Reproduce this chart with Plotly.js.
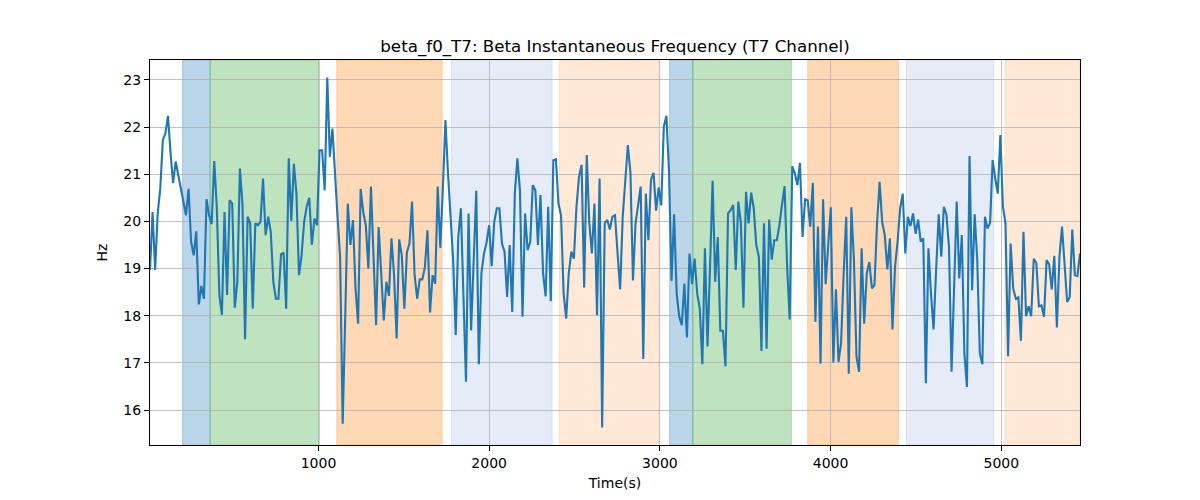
<!DOCTYPE html>
<html>
<head>
<meta charset="utf-8">
<script src="https://cdn.plot.ly/plotly-3.0.1.min.js"></script>
<style>html,body{margin:0;padding:0;background:#fff;}#chart{width:1200px;height:500px;}</style>
</head>
<body>
<div id="chart"></div>
<script>
// Beta instantaneous frequency (Hz), T7 channel
const betaF0Hz = [
18.97, 20.20, 18.97, 20.17, 20.70, 21.73, 21.87, 22.24, 21.45, 20.81,
21.27, 20.98, 20.70, 20.35, 20.13, 20.69, 19.57, 19.28, 19.79, 18.24,
18.63, 18.36, 20.47, 20.13, 19.94, 21.28, 20.30, 18.44, 18.02, 20.20,
18.44, 20.45, 20.38, 18.17, 18.72, 21.12, 20.35, 17.50, 20.10, 19.96,
18.15, 19.96, 19.92, 19.99, 20.91, 19.71, 20.10, 19.78, 18.72, 18.36,
18.36, 19.30, 19.34, 18.15, 21.34, 20.01, 21.22, 20.59, 18.86, 19.28,
19.99, 20.31, 20.50, 19.50, 20.06, 19.92, 21.51, 21.51, 20.66, 23.05,
21.37, 21.97, 20.95, 20.10, 19.25, 15.71, 18.00, 20.38, 19.50, 20.03,
18.58, 17.83, 20.69, 20.20, 19.92, 19.00, 20.74, 19.20, 17.80, 19.88,
19.00, 17.90, 18.72, 18.42, 19.64, 18.86, 17.52, 19.62, 19.28, 18.15,
19.35, 19.53, 20.42, 18.86, 18.36, 18.77, 18.77, 19.03, 19.81, 18.07,
18.86, 18.68, 20.74, 19.44, 20.70, 22.15,
21.02, 20.05, 19.18, 17.59, 19.67, 20.28, 18.47, 16.60, 20.17, 17.69,
19.18, 20.65, 16.97, 18.90, 19.32, 19.55, 19.92, 19.05, 19.99, 20.28,
20.28, 19.53, 19.36, 18.40, 19.50, 18.08, 20.59, 21.34, 20.66, 17.98,
20.17, 19.39, 19.57, 20.77, 20.66, 19.50, 20.56, 18.90, 18.41, 20.31,
18.31, 21.30, 21.32, 20.38, 20.13, 18.47, 17.94, 18.90, 19.36, 19.21,
20.31, 20.95, 21.20, 18.60, 21.41, 19.96, 19.32, 20.38, 18.01, 20.91,
15.63, 19.97, 20.03, 19.83, 20.10,
20.13, 19.32, 18.56, 20.10, 20.91, 21.62, 21.05, 18.75, 19.96, 20.38,
20.74, 17.08, 20.59, 19.60, 20.88, 21.03, 20.23, 20.72, 20.34, 22.01,
22.24, 21.09, 18.74, 20.15, 18.47, 17.98, 17.80, 18.68, 17.54, 19.32,
18.67, 19.21, 18.47, 18.15, 16.97, 19.43, 17.35, 19.05, 20.86, 18.72,
19.67, 17.68, 17.68, 16.93, 20.17,
20.24, 20.35, 18.97, 20.42, 19.96, 18.17, 20.63, 19.96, 20.61, 20.28,
19.50, 19.25, 17.25, 19.96, 17.30, 20.04, 19.19, 19.60, 19.60, 19.92,
20.35, 20.75, 19.04, 17.92, 21.17, 21.02, 20.77, 21.24, 19.67, 20.47,
20.45, 19.89, 20.82, 17.87, 19.89, 16.98, 20.47, 18.67, 19.50, 20.30,
17.01, 18.56, 17.02, 17.42, 18.90,
20.10, 16.77, 20.30, 19.18, 17.13, 16.81, 19.43, 17.83, 18.90, 19.14,
18.58, 18.65, 19.96, 20.84, 19.99, 19.71, 18.98, 19.64, 17.71, 19.04,
19.57, 20.28, 20.59, 19.32, 20.10, 19.90, 20.17, 19.74, 20.04, 19.57,
19.64, 16.57, 19.43, 18.47, 17.71, 18.97, 20.15, 19.25, 20.31, 20.15,
19.46, 16.81, 18.47, 20.42, 18.79, 19.71,
17.20, 16.49, 21.39, 18.54, 20.15, 19.18, 17.20, 16.97, 20.10, 19.85,
19.97, 21.30, 20.91, 20.59, 21.83, 20.31, 19.96, 17.14, 19.53, 18.58,
18.36, 18.39, 17.47, 19.78, 17.99, 18.20, 17.99, 19.21, 19.12, 18.20,
18.22, 17.98, 19.18, 19.09, 18.56, 19.27, 17.75, 19.25, 19.89, 19.18,
18.29, 18.40, 19.83, 18.86, 18.84, 19.32
];

// Regular sampling grid of the time axis (seconds)
const sampleStart = 13;
const sampleStep = 15.05;
const timeS = betaF0Hz.map((_, i) => sampleStart + i * sampleStep);

// Shaded segments (seconds) and their kind
const segStart = [204, 365, 1107, 1779, 2412, 3057, 3193, 3866, 4444, 5021];
const segEnd   = [365, 1005, 1724, 2369, 2994, 3193, 3770, 4397, 4956, 5460];
const segKind  = ['A', 'B', 'C', 'D', 'E', 'A', 'B', 'C', 'D', 'E'];

const xTicks = [1000, 2000, 3000, 4000, 5000];
const yTicks = [16, 17, 18, 19, 20, 21, 22, 23];

const kindFill = {
  A: 'rgba(31,119,180,0.3)',
  B: 'rgba(44,160,44,0.3)',
  C: 'rgba(255,127,14,0.3)',
  D: 'rgba(100,140,210,0.17)',
  E: 'rgba(255,127,14,0.17)'
};

const shapes = segStart.map((s, i) => ({
  type: 'rect', xref: 'x', yref: 'paper',
  x0: s, x1: segEnd[i], y0: 0, y1: 1,
  fillcolor: kindFill[segKind[i]],
  line: {width: 1, color: kindFill[segKind[i]]},
  layer: 'below'
}));

const font = {family: 'DejaVu Sans, sans-serif', color: '#000', size: 14};

const trace = {
  x: timeS, y: betaF0Hz, type: 'scatter', mode: 'lines',
  line: {color: '#1f77b4', width: 2.1},
  hoverinfo: 'x+y'
};

const layout = {
  width: 1200, height: 500,
  margin: {l: 150, r: 120, t: 60, b: 55},
  paper_bgcolor: '#fff', plot_bgcolor: 'rgba(0,0,0,0)',
  font: font,
  showlegend: false,
  title: {text: 'beta_f0_T7: Beta Instantaneous Frequency (T7 Channel)',
          font: {family: 'DejaVu Sans, sans-serif', size: 16.7, color: '#000'},
          x: 0.5, xref: 'paper', y: 1 - 46 / 500, yref: 'container', yanchor: 'middle'},
  xaxis: {
    range: [timeS[0], timeS[timeS.length - 1]],
    tickvals: xTicks, ticktext: xTicks.map(String),
    ticks: 'outside', ticklen: 5, tickwidth: 1, tickcolor: '#000',
    showgrid: true, gridcolor: '#b0b0b0', gridwidth: 0.8,
    zeroline: false, showline: true, mirror: true, linecolor: '#000', linewidth: 1,
    tickfont: {size: 14},
    title: {text: 'Time(s)', font: {size: 14}, standoff: 8}
  },
  yaxis: {
    range: [15.258, 23.424],
    tickvals: yTicks, ticktext: yTicks.map(String),
    ticks: 'outside', ticklen: 5, tickwidth: 1, tickcolor: '#000',
    showgrid: true, gridcolor: '#b0b0b0', gridwidth: 0.8,
    zeroline: false, showline: true, mirror: true, linecolor: '#000', linewidth: 1,
    tickfont: {size: 14},
    title: {text: 'Hz', font: {size: 14}, standoff: 12}
  },
  shapes: shapes
};

Plotly.newPlot('chart', [trace], layout, {staticPlot: true, displayModeBar: false});
</script>
</body>
</html>
